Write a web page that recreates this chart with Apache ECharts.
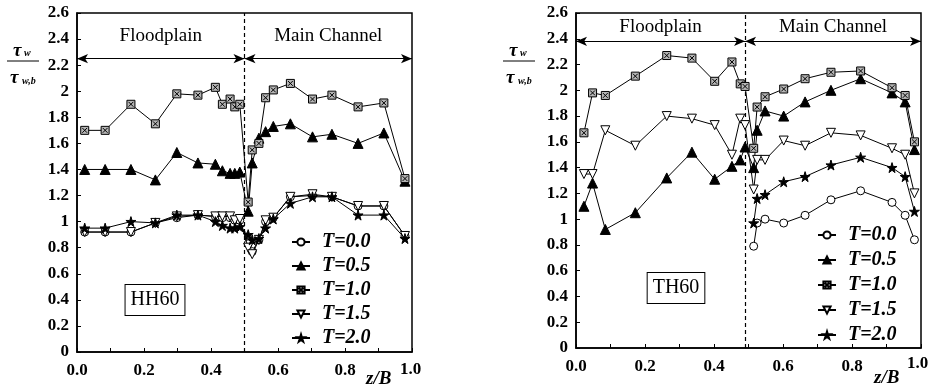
<!DOCTYPE html>
<html>
<head>
<meta charset="utf-8">
<script src="https://cdn.jsdelivr.net/npm/echarts@6/dist/echarts.min.js"></script>
<style>
html,body{margin:0;padding:0;background:#fff}
#chart{width:933px;height:386px}
</style>
</head>
<body>
<div id="chart"></div>
<script>
// HH60 panel
var xHH = [0.023, 0.084, 0.161, 0.234, 0.298, 0.361, 0.413, 0.434, 0.457, 0.471, 0.486,
           0.511, 0.523, 0.543, 0.563, 0.586, 0.637, 0.703, 0.761, 0.839, 0.916, 0.979];
var hhT00 = [0.92, 0.92, 0.92, 0.99, 1.03, 1.05, 1.04, 1.03, 1.03, 1.01, 1.01,
             0.83, 0.77, 0.86, 1.00, 1.03, 1.19, 1.20, 1.19, 1.12, 1.12, 0.89];
var hhT05 = [1.40, 1.40, 1.40, 1.32, 1.53, 1.45, 1.44, 1.39, 1.37, 1.37, 1.38,
             1.08, 1.45, 1.64, 1.69, 1.73, 1.75, 1.65, 1.67, 1.60, 1.68, 1.31];
var hhT10 = [1.70, 1.70, 1.90, 1.75, 1.98, 1.97, 2.03, 1.90, 1.94, 1.88, 1.90,
             1.15, 1.55, 1.60, 1.95, 2.01, 2.06, 1.94, 1.97, 1.88, 1.91, 1.33];
var hhT15 = [0.92, 0.92, 0.92, 0.99, 1.04, 1.05, 1.04, 1.04, 1.04, 1.01, 1.02,
             0.80, 0.75, 0.86, 1.01, 1.03, 1.19, 1.21, 1.19, 1.12, 1.12, 0.89];
var hhT20 = [0.95, 0.95, 1.00, 0.99, 1.05, 1.05, 1.00, 0.97, 0.95, 0.95, 0.96,
             0.90, 0.86, 0.87, 0.95, 1.02, 1.14, 1.19, 1.19, 1.05, 1.05, 0.87];

// TH60 panel (null = not measured)
var xTH = [0.023, 0.048, 0.085, 0.172, 0.263, 0.336, 0.402, 0.452, 0.476, 0.490,
           0.515, 0.525, 0.548, 0.602, 0.664, 0.739, 0.825, 0.916, 0.954, 0.981];
var thT00 = [null, null, null, null, null, null, null, null, null, null,
             0.79, 0.97, 1.00, 0.97, 1.03, 1.15, 1.22, 1.13, 1.03, 0.84];
var thT05 = [1.10, 1.28, 0.92, 1.05, 1.32, 1.52, 1.31, 1.41, 1.46, 1.56,
             1.40, 1.69, 1.84, 1.80, 1.91, 2.00, 2.09, 1.98, 1.91, 1.54];
var thT10 = [1.67, 1.98, 1.96, 2.11, 2.27, 2.25, 2.07, 2.22, 2.05, 2.03,
             1.55, 1.87, 1.95, 2.01, 2.09, 2.14, 2.15, 2.02, 1.96, 1.60];
var thT15 = [1.35, 1.35, 1.69, 1.57, 1.80, 1.78, 1.73, 1.50, 1.78, 1.73,
             1.23, 1.46, 1.46, 1.61, 1.57, 1.67, 1.65, 1.55, 1.50, 1.20];
var thT20 = [null, null, null, null, null, null, null, null, null, null,
             0.97, 1.16, 1.19, 1.29, 1.33, 1.42, 1.48, 1.40, 1.33, 1.06];

var names = ['T=0.0', 'T=0.5', 'T=1.0', 'T=1.5', 'T=2.0'];
var hhSplit = 0.5, hhArrowY = 2.25;
var thSplit = 0.49, thArrowY = 2.38;

var serif = '"Liberation Serif", "DejaVu Serif", serif';

var marks = [
    {symbol: 'circle', size: 8, color: '#fff'},
    {symbol: 'triangle', size: 10, color: '#000'},
    {symbol: 'path://M0,0H10V10H0Z M2,2L8,8 M8,2L2,8', size: 8, color: '#b5b5b5'},
    {symbol: 'path://M0,0L10,0L5,9Z', size: 9, color: '#fff'},
    {symbol: 'path://M50,0L61,35L98,35L68,57L79,91L50,70L21,91L32,57L2,35L39,35Z', size: 10, color: '#000'}
];

function zip(xs, ys) {
    var d = [];
    for (var i = 0; i < xs.length; i++) {
        if (ys[i] != null) d.push([xs[i], ys[i]]);
    }
    return d;
}

// arrows + region names go on the first series, dashed divider on the second
function arrows(split, ay) {
    return {
        markLine: {
            silent: true,
            animation: false,
            symbol: ['arrow', 'arrow'],
            symbolSize: [7, 11],
            label: {show: false},
            lineStyle: {color: '#000', width: 1, type: 'solid'},
            data: [
                [{coord: [0, ay]}, {coord: [split, ay]}],
                [{coord: [split, ay]}, {coord: [1, ay]}]
            ]
        },
        markArea: {
            silent: true,
            itemStyle: {color: 'rgba(0,0,0,0)'},
            label: {position: 'inside', color: '#000', fontFamily: serif, fontSize: 19},
            data: [
                [{name: 'Floodplain', coord: [0, ay]}, {coord: [split, 2.6]}],
                [{name: 'Main Channel', coord: [split, ay]}, {coord: [1, 2.6]}]
            ]
        }
    };
}

function divider(split) {
    return {
        silent: true,
        animation: false,
        symbol: ['none', 'none'],
        label: {show: false},
        lineStyle: {color: '#000', width: 1.2, type: [4, 3]},
        data: [{xAxis: split}]
    };
}

function makeSeries(idx, xs, sets, split, ay) {
    return sets.map(function (ys, k) {
        var s = {
            name: names[k],
            type: 'line',
            xAxisIndex: idx,
            yAxisIndex: idx,
            data: zip(xs, ys),
            symbol: marks[k].symbol,
            symbolSize: marks[k].size,
            showAllSymbol: true,
            lineStyle: {color: '#000', width: 1},
            itemStyle: {color: marks[k].color, borderColor: '#000', borderWidth: 1},
            z: 3 + k,
            animation: false
        };
        if (k === 0) {
            var a = arrows(split, ay);
            s.markLine = a.markLine;
            s.markArea = a.markArea;
        }
        if (k === 1) s.markLine = divider(split);
        return s;
    });
}

function xAx(idx) {
    return {
        type: 'value', gridIndex: idx, min: 0, max: 1, interval: 0.1,
        axisLine: {lineStyle: {color: '#000', width: 1.5}},
        axisTick: {inside: true, length: 4, lineStyle: {color: '#000'}},
        splitLine: {show: false},
        axisLabel: {
            color: '#000', fontFamily: serif, fontWeight: 'bold', fontSize: 17, margin: 10,
            formatter: function (v) {
                var t = Math.round(v * 10);
                if (t % 2 !== 0 || t === 10) return '';
                return (t / 10).toFixed(1);
            }
        }
    };
}

function yAx(idx) {
    return {
        type: 'value', gridIndex: idx, min: 0, max: 2.6, interval: 0.2,
        axisLine: {lineStyle: {color: '#000', width: 1.5}},
        axisTick: {inside: true, length: 4, lineStyle: {color: '#000'}},
        splitLine: {show: false},
        axisLabel: {
            color: '#000', fontFamily: serif, fontWeight: 'bold', fontSize: 17, margin: 8,
            formatter: function (v) {
                var r = Math.round(v);
                return Math.abs(v - r) < 1e-9 ? String(r) : v.toFixed(1);
            }
        }
    };
}

function legendAt(left, top, gap) {
    return {
        data: names, orient: 'vertical', left: left, top: top,
        itemWidth: 18, itemHeight: 9, itemGap: gap,
        selectedMode: false,
        textStyle: {fontFamily: serif, fontWeight: 'bold', fontStyle: 'italic', fontSize: 20, color: '#000', padding: [0, 0, 0, 7]}
    };
}

function fracLabel(x0) {
    var f = 'italic bold 19px ' + serif;
    var fs = 'italic bold 10px ' + serif;
    return [
        {type: 'text', left: x0 + 6, top: 42, style: {text: 'τ', font: f, fill: '#000'}},
        {type: 'text', left: x0 + 17, top: 48, style: {text: 'w', font: fs, fill: '#000'}},
        {type: 'line', shape: {x1: x0, y1: 61, x2: x0 + 32, y2: 61}, style: {stroke: '#000', lineWidth: 1}},
        {type: 'text', left: x0 + 3, top: 69, style: {text: 'τ', font: f, fill: '#000'}},
        {type: 'text', left: x0 + 15, top: 76, style: {text: 'w,b', font: fs, fill: '#000'}}
    ];
}

function boxLabel(cx, cy, txt) {
    return {
        type: 'text', x: cx, y: cy,
        style: {
            text: txt, font: '20px ' + serif, fill: '#000', align: 'center', verticalAlign: 'middle',
            borderColor: '#000', borderWidth: 1, padding: [6, 5, 4, 5], backgroundColor: '#fff'
        }
    };
}

function zbLabel(x1, y1, x2, y2) {
    return [
        {type: 'text', x: x1, y: y1, style: {text: 'z/B', font: 'italic bold 19px ' + serif, fill: '#000', align: 'left', verticalAlign: 'middle'}},
        {type: 'text', x: x2, y: y2, style: {text: '1.0', font: 'bold 17px ' + serif, fill: '#000', align: 'left', verticalAlign: 'middle'}}
    ];
}

var chart = echarts.init(document.getElementById('chart'), null, {renderer: 'canvas'});
chart.setOption({
    backgroundColor: '#fff',
    animation: false,
    grid: [
        {left: 77, top: 13, width: 335, height: 339, show: true, borderColor: '#000', borderWidth: 1.5},
        {left: 576, top: 13, width: 345, height: 335, show: true, borderColor: '#000', borderWidth: 1.5}
    ],
    xAxis: [xAx(0), xAx(1)],
    yAxis: [yAx(0), yAx(1)],
    legend: [legendAt(286, 227, 4), legendAt(812, 220, 5)],
    series: makeSeries(0, xHH, [hhT00, hhT05, hhT10, hhT15, hhT20], hhSplit, hhArrowY)
        .concat(makeSeries(1, xTH, [thT00, thT05, thT10, thT15, thT20], thSplit, thArrowY)),
    graphic: [].concat(
        fracLabel(7),
        fracLabel(503),
        [boxLabel(155, 300, 'HH60'), boxLabel(676, 288, 'TH60')],
        zbLabel(366, 379, 400, 370),
        zbLabel(874, 378, 907, 364)
    )
});
</script>
</body>
</html>
